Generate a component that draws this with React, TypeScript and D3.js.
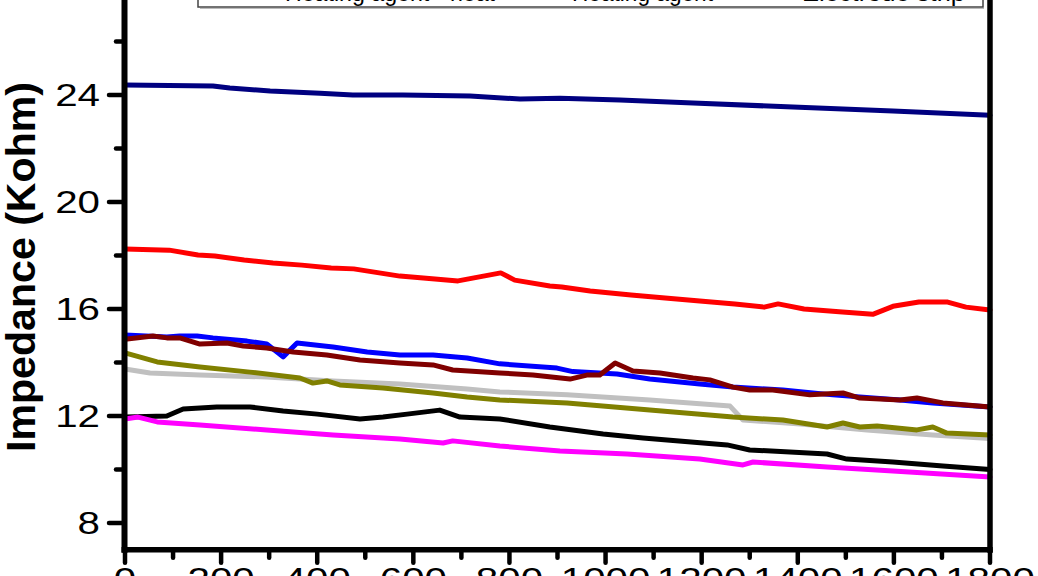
import React from "react";
import * as d3 from "d3";

type Pt = [number, number];

// x: time-like axis (0..1800); y: impedance in Kohm
const xMajorTicks = [0, 200, 400, 600, 800, 1000, 1200, 1400, 1600, 1800];
const xMinorTicks = [100, 300, 500, 700, 900, 1100, 1300, 1500, 1700];
const yMajorTicks = [8, 12, 16, 20, 24, 28];
const yMinorTicks = [10, 14, 18, 22, 26];

const legendLabels = ["Heating agent - heat", "Heating agent", "Electrode strip"];

const navySeries: Pt[] = [
  [0, 24.37], [183, 24.34], [218, 24.26], [302, 24.15], [406, 24.07], [474, 24.0],
  [578, 24.0], [718, 23.96], [822, 23.85], [905, 23.88], [1030, 23.81], [1182, 23.7],
  [1390, 23.55], [1598, 23.4], [1800, 23.24],
];

const redSeries: Pt[] = [
  [0, 18.24], [92, 18.2], [152, 18.02], [187, 17.98], [248, 17.83], [308, 17.72],
  [368, 17.64], [429, 17.53], [476, 17.5], [572, 17.23], [645, 17.12], [693, 17.05],
  [782, 17.35], [811, 17.08], [884, 16.86], [909, 16.82], [968, 16.67], [1053, 16.52],
  [1124, 16.41], [1196, 16.3], [1269, 16.19], [1330, 16.07], [1359, 16.19], [1413, 16.0],
  [1486, 15.9], [1556, 15.8], [1598, 16.1], [1652, 16.26], [1712, 16.26], [1750, 16.07],
  [1800, 15.96],
];

const blueSeries: Pt[] = [
  [0, 15.03], [87, 14.95], [114, 14.99], [150, 14.99], [183, 14.92], [254, 14.8],
  [295, 14.69], [329, 14.21], [358, 14.73], [433, 14.58], [504, 14.39], [572, 14.28],
  [641, 14.28], [712, 14.17], [780, 13.95], [899, 13.79], [932, 13.66], [1024, 13.57],
  [1092, 13.38], [1196, 13.2], [1265, 13.08], [1369, 12.97], [1473, 12.79], [1613, 12.6],
  [1681, 12.49], [1800, 12.34],
];

const maroonSeries: Pt[] = [
  [0, 14.87], [58, 14.99], [87, 14.92], [114, 14.92], [156, 14.69], [212, 14.73],
  [246, 14.62], [295, 14.54], [350, 14.39], [420, 14.28], [489, 14.09], [572, 13.98],
  [641, 13.91], [682, 13.72], [780, 13.61], [849, 13.53], [926, 13.38], [961, 13.53],
  [988, 13.53], [1020, 13.98], [1057, 13.68], [1113, 13.61], [1182, 13.42], [1217, 13.35],
  [1265, 13.08], [1300, 12.97], [1348, 12.97], [1425, 12.79], [1494, 12.86], [1529, 12.67],
  [1613, 12.6], [1648, 12.67], [1702, 12.49], [1800, 12.34],
];

const oliveSeries: Pt[] = [
  [0, 14.36], [67, 14.02], [156, 13.83], [260, 13.64], [364, 13.42], [391, 13.23],
  [420, 13.31], [447, 13.16], [537, 13.05], [641, 12.86], [712, 12.71], [780, 12.6],
  [920, 12.49], [1092, 12.22], [1265, 11.96], [1369, 11.85], [1461, 11.59], [1494, 11.74],
  [1529, 11.59], [1565, 11.63], [1648, 11.48], [1681, 11.59], [1710, 11.36], [1800, 11.29],
];

const graySeries: Pt[] = [
  [0, 13.76], [52, 13.61], [156, 13.53], [295, 13.46], [433, 13.31], [572, 13.2],
  [712, 13.01], [780, 12.9], [920, 12.79], [1092, 12.6], [1259, 12.37], [1286, 11.85],
  [1405, 11.7], [1544, 11.48], [1681, 11.29], [1800, 11.16],
];

const blackSeries: Pt[] = [
  [0, 11.96], [87, 12.0], [121, 12.26], [191, 12.34], [260, 12.34], [329, 12.19],
  [400, 12.07], [489, 11.89], [537, 11.96], [587, 12.07], [655, 12.22], [697, 11.96],
  [780, 11.89], [884, 11.59], [995, 11.33], [1078, 11.18], [1253, 10.92], [1300, 10.73],
  [1461, 10.58], [1502, 10.39], [1598, 10.28], [1702, 10.13], [1800, 10.0],
];

const magentaSeries: Pt[] = [
  [0, 11.89], [27, 11.96], [67, 11.78], [156, 11.66], [295, 11.48], [433, 11.29],
  [572, 11.14], [662, 10.99], [682, 11.07], [780, 10.88], [905, 10.69], [1045, 10.58],
  [1196, 10.39], [1286, 10.17], [1307, 10.28], [1461, 10.09], [1598, 9.94], [1800, 9.72],
];

const seriesList: { data: Pt[]; color: string }[] = [
  { data: graySeries, color: "#c0c0c0" },
  { data: blackSeries, color: "#000000" },
  { data: magentaSeries, color: "#ff00ff" },
  { data: oliveSeries, color: "#808000" },
  { data: blueSeries, color: "#0000ff" },
  { data: maroonSeries, color: "#800000" },
  { data: redSeries, color: "#ff0000" },
  { data: navySeries, color: "#000080" },
];

const FONT = "'Liberation Sans', Arial, Helvetica, sans-serif";

export default function App() {
  const W = 1038;
  const H = 576;
  const x = d3.scaleLinear().domain([0, 1800]).range([125, 990]);
  const y = d3.scaleLinear().domain([7, 28]).range([549.75, -12]);
  const line = d3
    .line<Pt>()
    .x((d) => x(d[0]))
    .y((d) => y(d[1]));

  const axisY = y(7);
  const legendX = [285, 572, 802];
  const legendW = [210, 141, 163];

  return (
    <svg
      width={W}
      height={H}
      style={{ position: "absolute", left: 0, top: 0, background: "#fff" }}
    >
      <rect x={0} y={0} width={W} height={H} fill="#fff" />

      {/* legend box (mostly above the visible area) */}
      <rect x={198} y={-80} width={785} height={87} fill="#fff" stroke="#444" strokeWidth={1.5} />
      <line x1={200} x2={984} y1={8.5} y2={8.5} stroke="#bbb" strokeWidth={1} />
      {legendLabels.map((t, i) => (
        <text
          key={t}
          x={legendX[i]}
          y={0.5}
          fontFamily={FONT}
          fontSize={24}
          textLength={legendW[i]}
          lengthAdjust="spacingAndGlyphs"
          fill="#000"
        >
          {t}
        </text>
      ))}

      {/* data lines */}
      {seriesList.map((s, i) => (
        <path
          key={i}
          d={line(s.data) || ""}
          fill="none"
          stroke={s.color}
          strokeWidth={5}
          strokeLinejoin="round"
          strokeLinecap="round"
        />
      ))}

      {/* frame */}
      <line x1={124.5} x2={124.5} y1={-20} y2={axisY + 3} stroke="#000" strokeWidth={6} />
      <line x1={990} x2={990} y1={-20} y2={axisY + 3} stroke="#000" strokeWidth={5.5} />
      <line x1={121.5} x2={992.75} y1={axisY} y2={axisY} stroke="#000" strokeWidth={5.5} />

      {/* y ticks */}
      {yMajorTicks.map((v) => (
        <g key={"ym" + v}>
          <line x1={109} x2={124} y1={y(v)} y2={y(v)} stroke="#000" strokeWidth={4.5} strokeLinecap="round" />
          <text
            transform={`translate(100,${y(v)}) scale(1.3,1)`}
            textAnchor="end"
            dominantBaseline="central"
            fontFamily={FONT}
            fontSize={31}
            fill="#000"
          >
            {v}
          </text>
        </g>
      ))}
      {yMinorTicks.map((v) => (
        <line key={"yn" + v} x1={116} x2={124} y1={y(v)} y2={y(v)} stroke="#000" strokeWidth={4.5} strokeLinecap="round" />
      ))}

      {/* x ticks */}
      {xMajorTicks.map((v) => (
        <g key={"xm" + v}>
          <line x1={x(v)} x2={x(v)} y1={axisY} y2={axisY + 13} stroke="#000" strokeWidth={4.5} strokeLinecap="round" />
          <text
            transform={`translate(${x(v)},${590}) scale(1.3,1)`}
            textAnchor="middle"
            fontFamily={FONT}
            fontSize={31}
            fill="#000"
          >
            {v}
          </text>
        </g>
      ))}
      {xMinorTicks.map((v) => (
        <line key={"xn" + v} x1={x(v)} x2={x(v)} y1={axisY} y2={axisY + 8} stroke="#000" strokeWidth={4.5} strokeLinecap="round" />
      ))}

      {/* y axis title */}
      <text
        transform={`translate(35,267) rotate(-90)`}
        textAnchor="middle"
        fontFamily={FONT}
        fontWeight="bold"
        fontSize={41}
        textLength={370}
        lengthAdjust="spacingAndGlyphs"
        fill="#000"
      >
        Impedance (Kohm)
      </text>
    </svg>
  );
}
